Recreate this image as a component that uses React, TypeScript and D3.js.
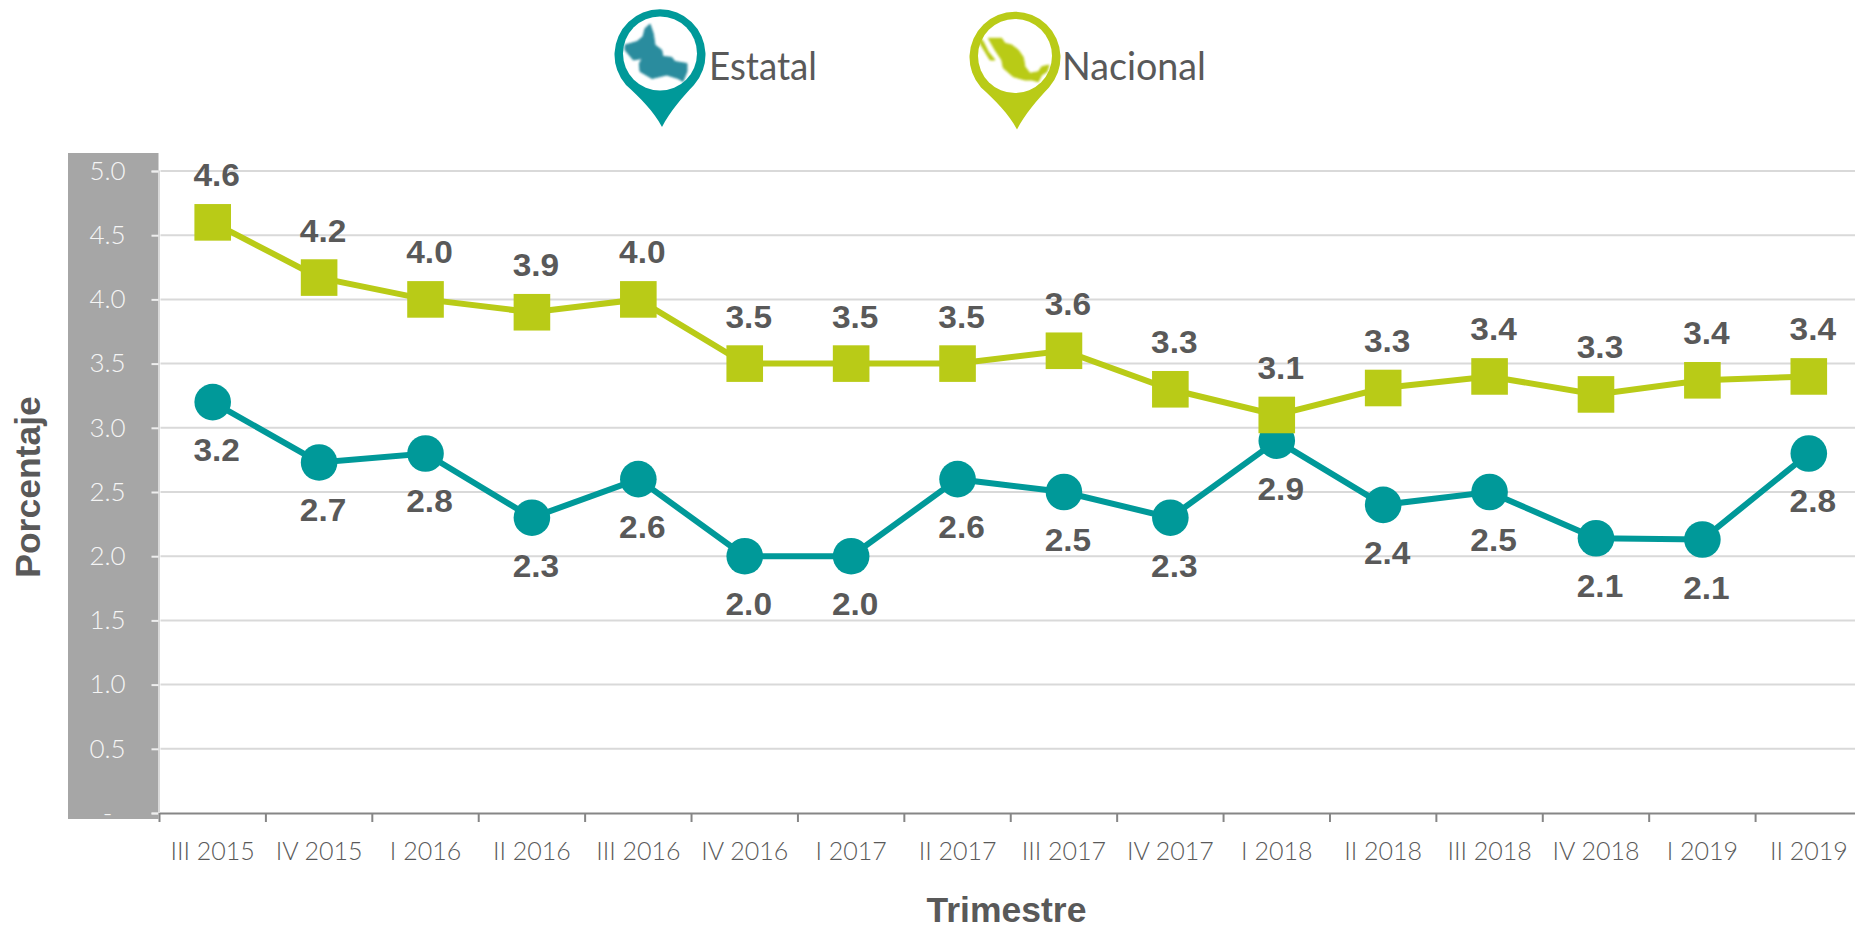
import { useEffect, useRef } from "react";
import * as d3 from "d3";

const quarters = [
  "III 2015", "IV 2015", "I 2016", "II 2016", "III 2016", "IV 2016", "I 2017", "II 2017",
  "III 2017", "IV 2017", "I 2018", "II 2018", "III 2018", "IV 2018", "I 2019", "II 2019",
];
const estatal = [3.2, 2.73, 2.8, 2.3, 2.6, 2.0, 2.0, 2.6, 2.5, 2.3, 2.9, 2.4, 2.5, 2.14, 2.13, 2.8];
const nacional = [4.6, 4.17, 4.0, 3.9, 4.0, 3.5, 3.5, 3.5, 3.6, 3.3, 3.1, 3.31, 3.4, 3.26, 3.37, 3.4];
const yTicks = [0, 0.5, 1, 1.5, 2, 2.5, 3, 3.5, 4, 4.5, 5];

const TEAL = "#009999";
const LIME = "#b9cb17";
const TEXT = "#595959";

const width = 1855;
const height = 930;
const margin = { left: 159.5, right: -7, top: 171, bottom: 117 };

// map pin, origin at the centre of the white hole
const pinPath = "M-34,31.5 A45.5,45.5 0 1 1 34,31.5 C22,44 10,58 2,73.5 C-6,58 -20,44 -34,31.5 Z";
const stateShape =
  "M-10,-29.5 L-6.7,-20 L-5,-8.5 L1.7,-3.5 L3,3 L11.7,3.8 L15,8 L27,10 L27,18 L23,28 L18,25 L6.7,21.5 L-8,25 L-20,18 L-20.7,10 L-18,5 L-26.7,6.5 L-35,-3.5 L-35,-8.5 L-23,-12 L-17,-17 L-15,-25 Z";
const mexicoShape =
  "M-26.7,-17.7 L-13.3,-17.7 L-10,-12.7 L-3.3,-11 L3.3,-6 L8.3,1.3 L10,10.7 L15,17.3 L23.3,15.7 L26.7,10.7 L34,9 L32,15.7 L26.7,19 L23.3,25.7 L16.7,24 L10,24 L-1.7,20.7 L-11.7,12 L-13.3,4 L-20,-6 Z M-36.7,-21 L-31.7,-14.3 L-26.7,-4.3 L-20,4 L-25,4 L-30,-4.3 L-35,-12.7 Z";

function Pin({ x, y, color, map, mapColor }: any) {
  return (
    <g transform={`translate(${x},${y})`}>
      <path d={pinPath} fill={color} />
      <circle cx={0} cy={0} r={37} fill="#fff" />
      <path d={map} fill={mapColor} stroke={mapColor} strokeWidth={1} strokeLinejoin="round" filter="url(#soft)" />
    </g>
  );
}

export default function App() {
  const xRef = useRef<SVGGElement>(null);
  const yRef = useRef<SVGGElement>(null);

  const x = d3
    .scaleBand()
    .domain(quarters)
    .range([margin.left, width - margin.right]);
  const y = d3
    .scaleLinear()
    .domain([0, 5])
    .range([height - margin.bottom, margin.top]);

  const cx = (i: number) => x(quarters[i])! + x.bandwidth() / 2;
  const line = d3
    .line<number>()
    .x((_, i) => cx(i))
    .y((d) => y(d));

  useEffect(() => {
    const yAxis = d3
      .axisLeft(y)
      .tickValues(yTicks)
      .tickSize(7)
      .tickPadding(25)
      .tickFormat((d) => (d === 0 ? "-" : d3.format(".1f")(d as number)));
    const yG = d3.select(yRef.current!).call(yAxis as any);
    yG.select(".domain").attr("stroke", "#d9d9d9").attr("stroke-width", 2);
    yG.selectAll(".tick line").attr("stroke", "#eeeeee").attr("stroke-width", 2);
    yG.selectAll(".tick text")
      .attr("fill", "#f5f5f5")
      .attr("font-family", "Lato")
      .attr("font-weight", 300)
      .attr("font-size", 26)
      .attr("text-anchor", "middle")
      .attr("x", -51);

    const xAxis = d3.axisBottom(x).tickSize(0).tickPadding(29.5);
    const xG = d3.select(xRef.current!).call(xAxis as any);
    xG.select(".domain").attr("stroke", "#868686").attr("stroke-width", 2);
    xG.selectAll(".tick text")
      .attr("fill", TEXT)
      .attr("font-family", "Lato")
      .attr("font-weight", 300)
      .attr("font-size", 25);
    // the tick marks sit between the categories
    xG.selectAll(".boundary")
      .data(quarters)
      .join("line")
      .attr("class", "boundary")
      .attr("x1", (d) => x(d)!)
      .attr("x2", (d) => x(d)!)
      .attr("y1", 0)
      .attr("y2", 9)
      .attr("stroke", "#868686")
      .attr("stroke-width", 2);
  }, []);

  return (
    <svg
      width={width}
      height={height}
      style={{ position: "absolute", left: 0, top: 0, display: "block", background: "#fff" }}
    >
      <defs>
        <filter id="soft">
          <feGaussianBlur stdDeviation={0.8} />
        </filter>
      </defs>
      <rect x={68} y={153} width={90.5} height={666} fill="#a6a6a6" />

      {yTicks
        .filter((d) => d > 0)
        .map((d) => (
          <line key={d} x1={margin.left + 1} x2={width} y1={y(d)} y2={y(d)} stroke="#d9d9d9" strokeWidth={2} />
        ))}

      <g ref={yRef} transform={`translate(${margin.left - 1},0)`} />
      <g ref={xRef} transform={`translate(0,${y(0)})`} />

      <path d={line(estatal)!} fill="none" stroke={TEAL} strokeWidth={6} />
      {estatal.map((d, i) => (
        <circle key={i} cx={cx(i)} cy={y(d)} r={18.3} fill={TEAL} />
      ))}

      <path d={line(nacional)!} fill="none" stroke={LIME} strokeWidth={6} />
      {nacional.map((d, i) => (
        <rect key={i} x={cx(i) - 18.3} y={y(d) - 18.3} width={36.6} height={36.6} fill={LIME} />
      ))}

      <g fontFamily="Liberation Sans" fontWeight={700} fontSize={32} fill={TEXT} textAnchor="middle">
        {nacional.map((d, i) => (
          <text key={i} x={cx(i) + 4} y={y(d) - 36} textLength={46.5} lengthAdjust="spacingAndGlyphs">
            {d3.format(".1f")(d)}
          </text>
        ))}
        {estatal.map((d, i) => (
          <text key={i} x={cx(i) + 4} y={y(d) + 59} textLength={46.5} lengthAdjust="spacingAndGlyphs">
            {d3.format(".1f")(d)}
          </text>
        ))}
      </g>

      <text
        transform="translate(40,487) rotate(-90)"
        fontFamily="Liberation Sans"
        fontWeight={700}
        fontSize={35.5}
        fill={TEXT}
        textAnchor="middle"
      >
        Porcentaje
      </text>
      <text
        x={1006.5}
        y={922}
        fontFamily="Liberation Sans"
        fontWeight={700}
        fontSize={35.5}
        fill={TEXT}
        textAnchor="middle"
      >
        Trimestre
      </text>

      <Pin x={660} y={53.5} color={TEAL} map={stateShape} mapColor="#2b8c9e" />
      <Pin x={1015} y={56} color={LIME} map={mexicoShape} mapColor={LIME} />
      <g fontFamily="Lato" fontSize={38} fill={TEXT}>
        <text x={709} y={80} textLength={108} lengthAdjust="spacingAndGlyphs">
          Estatal
        </text>
        <text x={1062} y={80} textLength={144} lengthAdjust="spacingAndGlyphs">
          Nacional
        </text>
      </g>
    </svg>
  );
}
